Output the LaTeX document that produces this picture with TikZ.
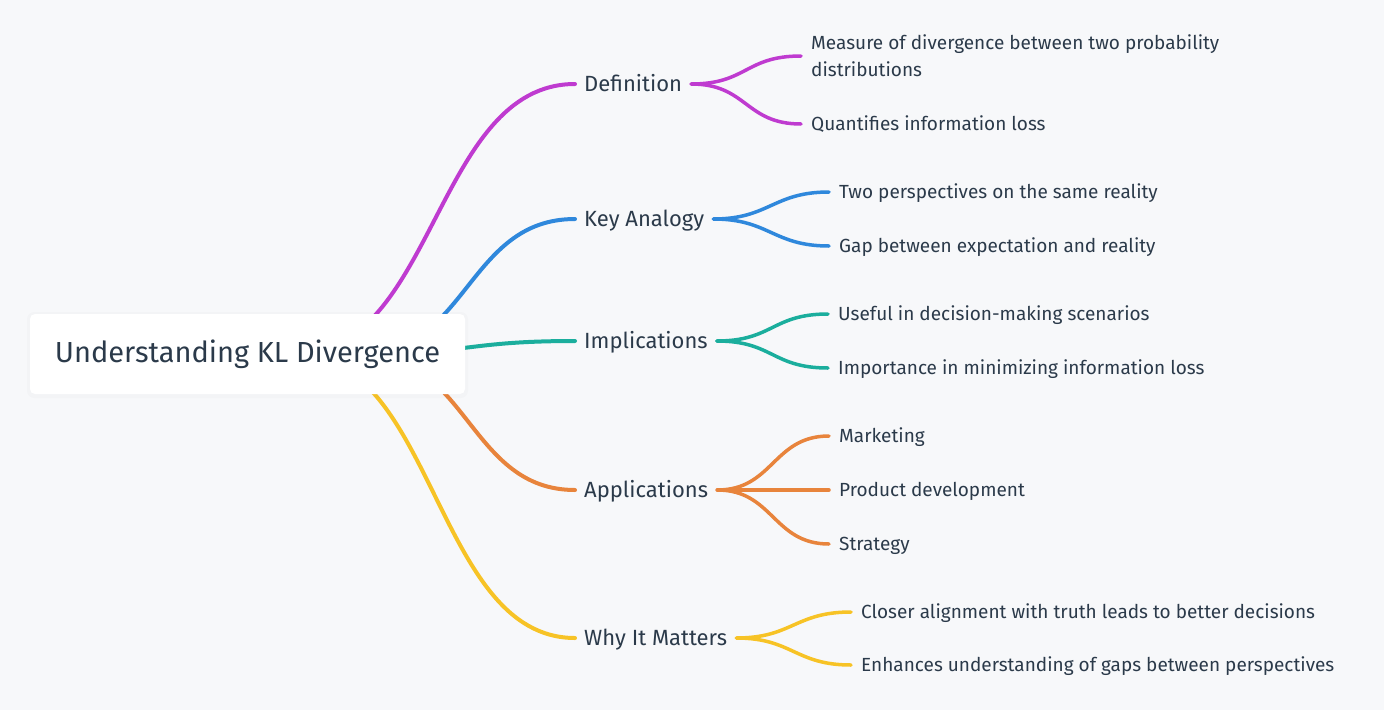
\documentclass[tikz,border=0pt]{standalone}
\usepackage{fontspec}
\setmainfont{Fira Sans}
\usetikzlibrary{positioning}

\definecolor{bg}{HTML}{F7F8FA}
\definecolor{ink}{HTML}{2B3A4A}
\definecolor{cdef}{HTML}{BF3BD0}
\definecolor{cana}{HTML}{2F88DC}
\definecolor{cimp}{HTML}{1BAE9D}
\definecolor{capp}{HTML}{E8843C}
\definecolor{cwhy}{HTML}{F7C326}

\tikzset{
  rootbox/.style={fill=white, rounded corners=5pt, minimum width=435pt, minimum height=80pt,
    text=ink, font=\fontsize{29}{33}\selectfont},
  branch/.style={anchor=west, inner xsep=9pt, inner ysep=0pt, text height=15.2pt, text depth=0pt,
    text=ink, font=\fontsize{22}{26}\selectfont},
  leaf/.style={anchor=west, inner xsep=10pt, inner ysep=0pt, text height=13pt, text depth=0pt,
    text=ink, font=\fontsize{19}{27}\selectfont, align=left},
  trunk/.style={line width=4pt, line cap=round},
  twig/.style={line width=3.5pt, line cap=round},
}

\begin{document}
\begin{tikzpicture}[x=1pt, y=-1pt]
  % canvas
  \fill[bg] (0,0) rectangle (1384,710);
  \useasboundingbox (0,0) rectangle (1384,710);

  % main branches
  \node[branch] (def) at (575,84)  {Definition};
  \node[branch] (ana) at (575,219) {Key Analogy};
  \node[branch] (imp) at (575,341) {Implications};
  \node[branch] (app) at (575,490) {Applications};
  \node[branch] (why) at (575,638) {Why It Matters};

  % starting points inside the root box
  \coordinate (s-def) at (295,354);
  \coordinate (s-ana) at (360,354);
  \coordinate (s-imp) at (360,354);
  \coordinate (s-app) at (362,354);
  \coordinate (s-why) at (295,354);

  % trunks
  \draw[trunk, cdef] (s-def) .. controls +(140,0) and +(-140,0) .. (def.west);
  \draw[trunk, cana] (s-ana) .. controls +(108,0) and +(-108,0) .. (ana.west);
  \draw[trunk, cimp] (s-imp) .. controls +(108,0) and +(-108,0) .. (imp.west);
  \draw[trunk, capp] (s-app) .. controls +(106,0) and +(-106,0) .. (app.west);
  \draw[trunk, cwhy] (s-why) .. controls +(140,0) and +(-140,0) .. (why.west);

  % root
  \fill[black, opacity=0.015, rounded corners=7pt] (27,312) rectangle (468,398);
  \node[rootbox] (root) at (247.5,354) {Understanding KL Divergence};

  % leaves
  \node[leaf, text height=40pt] (def1) at (801,56) {Measure of divergence between two probability\\distributions};
  \node[leaf] (def2) at (801,124) {Quantifies information loss};
  \node[leaf] (ana1) at (829,192) {Two perspectives on the same reality};
  \node[leaf] (ana2) at (829,246) {Gap between expectation and reality};
  \node[leaf] (imp1) at (828,314) {Useful in decision-making scenarios};
  \node[leaf] (imp2) at (828,368) {Importance in minimizing information loss};
  \node[leaf] (app1) at (829,436) {Marketing};
  \node[leaf] (app2) at (829,490) {Product development};
  \node[leaf] (app3) at (829,544) {Strategy};
  \node[leaf] (why1) at (851,612) {Closer alignment with truth leads to better decisions};
  \node[leaf] (why2) at (851,665) {Enhances understanding of gaps between perspectives};

  % twigs
  \foreach \p/\c/\k in {def/cdef/def1, def/cdef/def2, ana/cana/ana1, ana/cana/ana2,
      imp/cimp/imp1, imp/cimp/imp2, app/capp/app1, app/capp/app2, app/capp/app3,
      why/cwhy/why1, why/cwhy/why2}
    \draw[twig, \c] (\p.east) .. controls +(56,0) and +(-56,0) .. (\k.west);
\end{tikzpicture}
\end{document}
